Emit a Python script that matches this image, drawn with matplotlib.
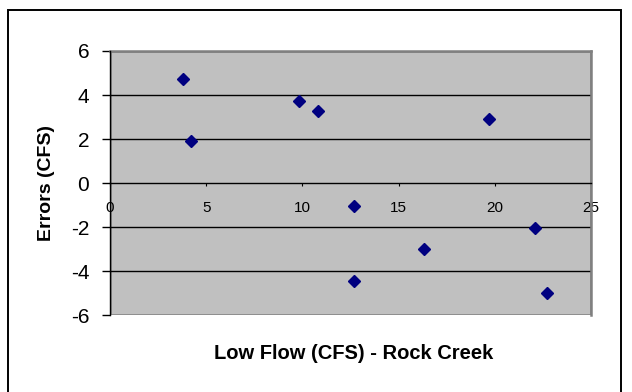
import matplotlib

matplotlib.use("Agg")
import matplotlib.pyplot as plt
from matplotlib.patches import Rectangle

plt.rcParams["font.family"] = ["Liberation Sans", "DejaVu Sans"]
plt.rcParams["axes.unicode_minus"] = False

# data
low_flow = [3.8, 4.2, 9.8, 10.8, 12.7, 12.7, 16.3, 19.7, 22.1, 22.7]
errors = [4.73, 1.92, 3.74, 3.27, -1.02, -4.45, -3.0, 2.91, -2.02, -5.0]
x_ticks = [0, 5, 10, 15, 20, 25]
y_ticks = [-6, -4, -2, 0, 2, 4, 6]

W, H = 632, 392
fig = plt.figure(figsize=(W / 100, H / 100), dpi=100)
ax = fig.add_axes([110 / W, (H - 315.3) / H, 481 / W, 264.3 / H])

ax.set_facecolor("#C0C0C0")
ax.set_xlim(0, 25)
ax.set_ylim(-6, 6)

# horizontal gridlines
for y in y_ticks:
    if y not in (-6, 6, 0):
        ax.axhline(y, color="black", lw=1.0, zorder=1)

ax.plot(low_flow, errors, linestyle="none", marker="D", ms=5.8,
        color="#000080", zorder=5, clip_on=False)

# spines: y axis black, x axis crosses at 0, gray frame around plot area
for side in ("top", "right"):
    ax.spines[side].set_color("#808080")
    ax.spines[side].set_linewidth(1.8)
ax.spines["left"].set_color("black")
ax.spines["left"].set_linewidth(1.0)
ax.spines["left"].set_zorder(3)
ax.spines["bottom"].set_position(("data", 0))
ax.spines["bottom"].set_color("black")
ax.spines["bottom"].set_linewidth(1.0)
ax.add_patch(Rectangle((0, -6), 25, 12, fill=False, edgecolor="#808080",
                       lw=1.8, zorder=0.5))

ax.set_xticks(x_ticks)
ax.set_yticks(y_ticks)
ax.tick_params(axis="y", direction="out", length=6, width=1, pad=9,
               labelsize=15, color="black")
ax.tick_params(axis="x", direction="out", length=2.5, width=0.8, pad=10,
               labelsize=11, color="black")
for lbl in ax.get_xticklabels():
    lbl.set_zorder(6)

ax.set_xlabel("Low Flow (CFS) - Rock Creek", fontsize=14.5,
              fontweight="bold", va="center")
ax.xaxis.set_label_coords(0.507, -0.146)
ax.set_ylabel("Errors (CFS)", fontsize=14, fontweight="bold", va="center")
ax.yaxis.set_label_coords(-0.131, 0.5)

# outer chart border (bottom edge lies outside the image)
fig.patches.append(Rectangle((8 / W, -0.05), (621 - 8) / W, (H - 10) / H + 0.05,
                             transform=fig.transFigure, fill=False,
                             edgecolor="black", lw=1.4))

fig.savefig("out.png", dpi=100)
plt.close(fig)
